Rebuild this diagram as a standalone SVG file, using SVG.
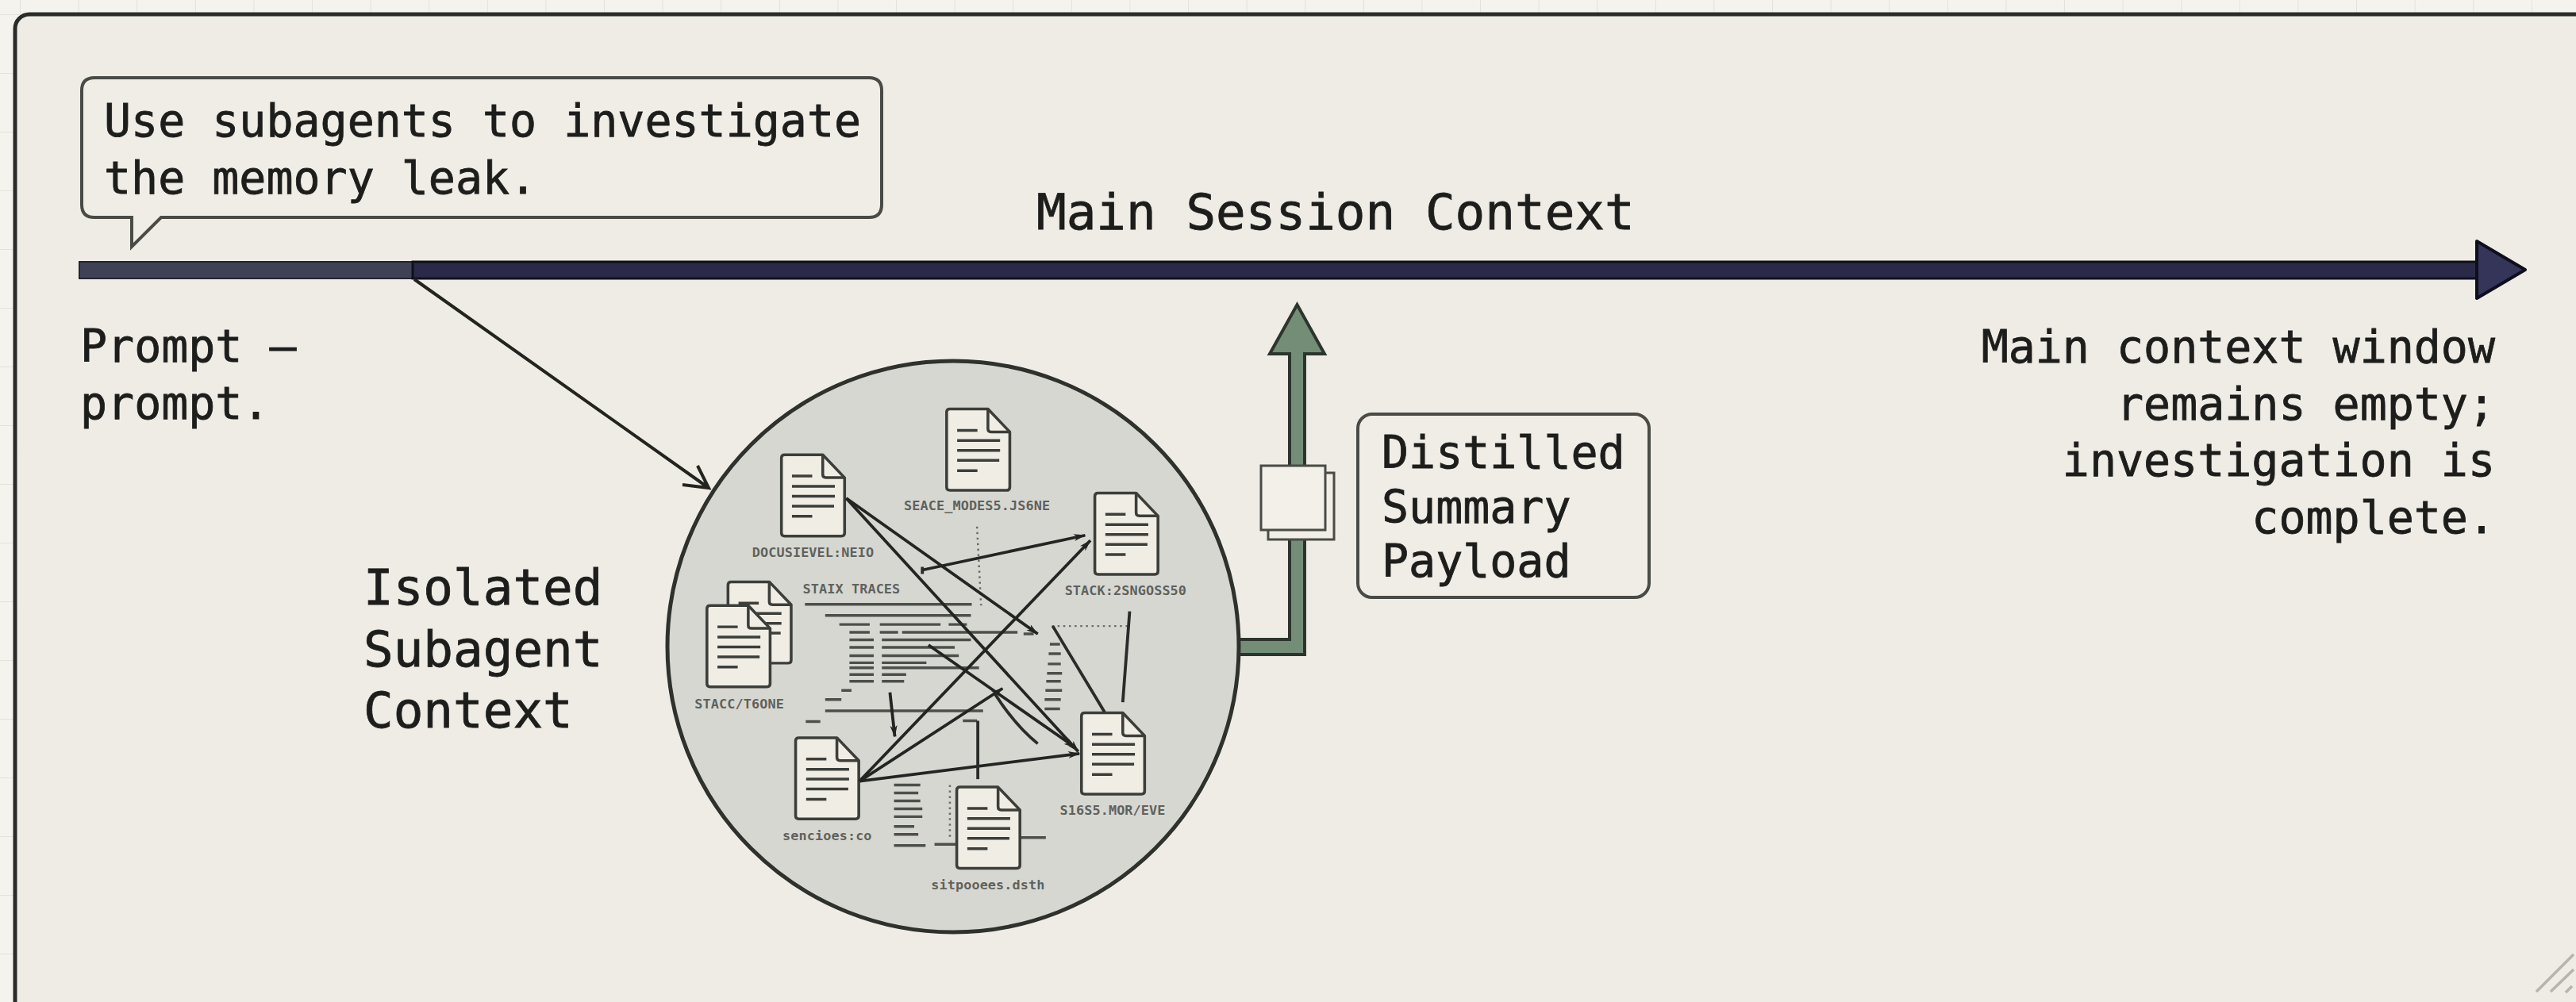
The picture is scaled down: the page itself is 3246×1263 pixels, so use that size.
<svg xmlns="http://www.w3.org/2000/svg" width="3246" height="1263" viewBox="0 0 3246 1263">
<style>
text{font-family:"DejaVu Sans Mono","Liberation Mono",monospace;fill:#1d1e1c}
.t{font-size:56.6px;stroke:#1d1e1c;stroke-width:.8px}
.h{font-size:62.6px;stroke:#1d1e1c;stroke-width:.8px}
.box{fill:#f0ede6;stroke:#4a4b46;stroke-width:4}
.docb{fill:#f0ede5;stroke:#3c3e39;stroke-width:7;stroke-linejoin:round}
.docl{stroke:#3c3e39;stroke-width:7;fill:none}
.lbl{font-size:33px;font-weight:bold;fill:#5f625c;text-anchor:middle;letter-spacing:.2px}
.fl{stroke:#2a2c29;stroke-width:7.500;fill:none}
.ar{stroke:#232522;stroke-width:7.500;fill:none;marker-end:url(#tip)}
.code{stroke:#4d504a;stroke-width:7;fill:none}
.dot{stroke:#6c6f68;stroke-width:5;stroke-dasharray:5 9;fill:none}
</style>
<defs>
<pattern id="grid" width="73.6" height="74" patternUnits="userSpaceOnUse" x="25" y="18"><path d="M0 0V74M0 0H73.6" stroke="#e4e2db" stroke-width="2" fill="none"/></pattern>
<marker id="tip" markerUnits="userSpaceOnUse" viewBox="0 0 30 20" refX="28" refY="10" markerWidth="30" markerHeight="20" orient="auto"><path d="M0 1L30 10L0 19L8 10Z" fill="#232522"/></marker>
<g id="doc">
<path class="docb" d="M8 0H102L156 58V198Q156 206 148 206H8Q0 206 0 198V8Q0 0 8 0Z"/>
<path class="docl" d="M102 0V50Q102 58 110 58H156"/>
<path class="docl" d="M26 54H76M26 80H132M26 105H132M26 130H130M26 156H76"/>
</g>
</defs>
<rect width="3246" height="1263" fill="#f5f3ed"/>
<rect width="3246" height="1263" fill="url(#grid)"/>
<rect id="frame" x="19" y="18" width="3320" height="1262" rx="18" fill="#efece5" stroke="#2b2c2a" stroke-width="5"/>
<g id="corner-hatch" stroke="#b6b4ab" stroke-width="3.5" fill="none"><path d="M3196 1250L3243 1203M3214 1250L3243 1222M3233 1251L3241 1243"/></g>

<g id="main-timeline">
<rect x="100" y="330" width="420" height="21" fill="#3f4157" stroke="#23242e" stroke-width="2"/>
<rect x="520" y="330" width="2602" height="21" fill="#2a2a48" stroke="#10101c" stroke-width="3"/>
<path d="M3121 304L3182 340L3121 376Z" fill="#35355a" stroke="#0f0f1c" stroke-width="4" stroke-linejoin="round"/>
<text class="h" x="1306" y="289">Main Session Context</text>
</g>

<g id="prompt-bubble">
<path class="box" d="M119 98H1095Q1111 98 1111 114V258Q1111 274 1095 274H203L166 311V274H119Q103 274 103 258V114Q103 98 119 98Z"/>
<text class="t" x="131" y="172">Use subagents to investigate</text>
<text class="t" x="131" y="244">the memory leak.</text>
</g>

<g id="prompt-label">
<text class="t" x="101" y="456">Prompt –</text>
<text class="t" x="101" y="528">prompt.</text>
</g>

<g id="result-label" text-anchor="end">
<text class="t" x="3144" y="457">Main context window</text>
<text class="t" x="3144" y="529">remains empty;</text>
<text class="t" x="3144" y="600">investigation is</text>
<text class="t" x="3144" y="672">complete.</text>
</g>

<g id="subagent-label">
<text class="h" x="458" y="762">Isolated</text>
<text class="h" x="458" y="840">Subagent</text>
<text class="h" x="458" y="917">Context</text>
</g>

<g id="summary-arrow">
<path d="M1560 806H1625V446H1600L1634.500 384L1669 446H1644V825H1560Z" fill="#738d77" stroke="#2c352d" stroke-width="4" stroke-linejoin="miter"/>
</g>

<g id="subagent-context">
<circle cx="1201" cy="815" r="360" fill="#d7d7d2" stroke="#2f312d" stroke-width="5"/>
</g>

<g id="payload-icon">
<rect x="1598" y="596" width="83" height="84" fill="#f1eee7" stroke="#4a4b46" stroke-width="3"/>
<rect x="1589" y="587" width="81" height="81" fill="#f3f0e9" stroke="#4a4b46" stroke-width="3"/>
</g>

<g id="payload-label">
<rect class="box" x="1711" y="522" width="367" height="231" rx="18"/>
<text class="t" x="1741" y="590">Distilled</text>
<text class="t" x="1741" y="659">Summary</text>
<text class="t" x="1741" y="727">Payload</text>
</g>

<g transform="translate(800 430) scale(.5102 .4974)">
<g id="trace-lines">
<path class="code" d="M420 667H832M470 695H830M505 718H580M605 718H755M775 718H820M530 738H580M605 738H650M660 738H945M960 742H985M530 757H590M610 757H830M530 776H590M610 776H790M530 797H590M610 797H800M530 815H590M610 815H720M530 828H590M610 828H850M530 845H590M610 845H670M530 862H590M610 862H665M510 885H535M470 908H510M470 937H860M422 964H458M810 962H845"/>
<path class="code" d="M1025 768H1050M1022 792H1052M1020 818H1052M1018 842H1055M1016 862H1052M1014 885H1055M1012 908H1052M1012 932H1050"/>
<path class="code" d="M640 1125H705M640 1145H700M640 1165H705M640 1185H710M640 1205H710M640 1230H690M640 1250H700M640 1278H718M740 1275H800M950 1258H1015"/>
<text class="lbl" x="535" y="640">STAIX TRACES</text>
</g>
<g id="doc-back"><use href="#doc" x="230" y="610"/></g>
<g id="doc-stack"><use href="#doc" x="178" y="670"/><text class="lbl" x="258" y="930">STACC/T6ONE</text></g>
<g id="doc-top-left"><use href="#doc" x="362" y="288"/><text class="lbl" x="440" y="547">DOCUSIEVEL:NEIO</text></g>
<g id="doc-top"><use href="#doc" x="770" y="172"/><text class="lbl" x="845" y="429">SEACE_MODES5.JS6NE</text></g>
<g id="doc-right"><use href="#doc" x="1136" y="385"/><text class="lbl" x="1212" y="644">STACK:2SNGOSS50</text></g>
<g id="doc-bottom-left"><use href="#doc" x="397" y="1005"/><text class="lbl" x="475" y="1264">sencioes:co</text></g>
<g id="doc-bottom"><use href="#doc" x="795" y="1130"/><text class="lbl" x="872" y="1389">sitpooees.dsth</text></g>
<g id="doc-bottom-right"><use href="#doc" x="1103" y="942"/><text class="lbl" x="1180" y="1200">S16S5.MOR/EVE</text></g>
</g>

<g id="connectors">
<path d="M522 352L893 615M879 587L893 615L860 611" fill="none" stroke="#23241f" stroke-width="4"/>
<g transform="translate(800 430) scale(.5102 .4974)">
<path class="dot" d="M845 470L855 670M778 1125V1265"/>
<path class="dot" d="M1030 722H1220" stroke-dasharray="8 10"/>
<path class="ar" d="M522 398L995 742"/>
<path class="ar" d="M522 398L1095 1040"/>
<path class="ar" d="M710 580L1112 492"/>
<path class="fl" d="M710 572V590"/>
<path class="ar" d="M555 1115L1125 505"/>
<path class="ar" d="M555 1115L908 880"/>
<path class="ar" d="M555 1115L1098 1045"/>
<path class="ar" d="M725 770L1088 1030"/>
<path class="fl" d="M1160 940L1032 722"/>
<path class="fl" d="M1222 685L1205 915"/>
<path class="ar" d="M630 890L642 1002"/>
<path class="fl" d="M890 895Q940 975 995 1020"/>
<path class="fl" d="M847 962V1110"/>
</g>
</g>
</svg>
